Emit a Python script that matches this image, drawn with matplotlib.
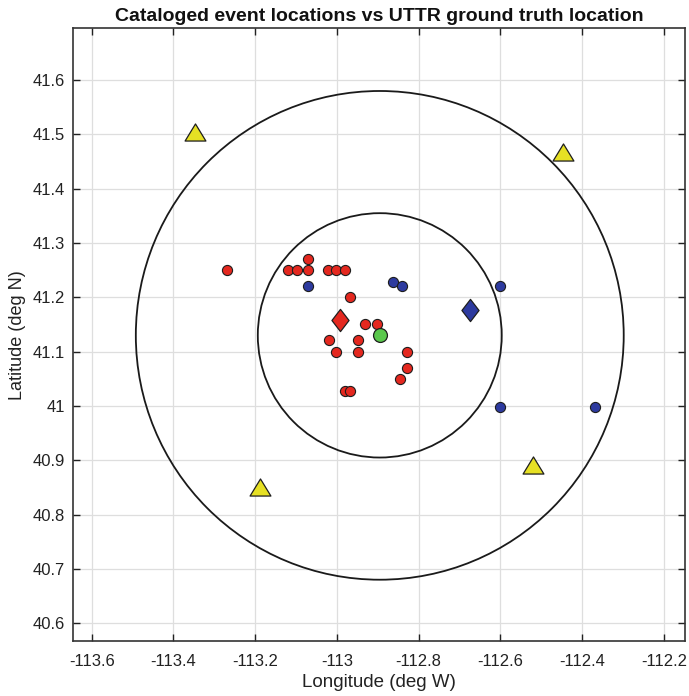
import numpy as np
import matplotlib
matplotlib.use("Agg")
import matplotlib.pyplot as plt
from matplotlib.patches import Ellipse
from matplotlib.path import Path

plt.rcParams['font.family'] = ['Liberation Sans', 'DejaVu Sans']

# Cataloged events (red = one catalog, blue = another)
red_lon = [-113.270, -113.120, -113.098, -113.071, -113.071, -113.021, -113.002, -112.981,
           -112.969, -112.931, -112.901, -113.020, -112.949, -113.002, -112.949, -112.981,
           -112.969, -112.829, -112.829, -112.846]
red_lat = [41.250, 41.250, 41.250, 41.250, 41.270, 41.250, 41.250, 41.250,
           41.200, 41.150, 41.150, 41.121, 41.121, 41.100, 41.100, 41.028,
           41.028, 41.100, 41.069, 41.049]
blue_lon = [-113.071, -112.863, -112.840, -112.600, -112.600, -112.369]
blue_lat = [41.220, 41.229, 41.220, 41.220, 40.998, 40.998]

red_mean_lon, red_mean_lat = -112.992, 41.159
blue_mean_lon, blue_mean_lat = -112.674, 41.176
truth_lon, truth_lat = -112.895, 41.130

sta_lon = [-113.346, -112.447, -113.187, -112.520]
sta_lat = [41.504, 41.467, 40.851, 40.891]

ring_radii_km = [25, 50]

xticks = [-113.6, -113.4, -113.2, -113.0, -112.8, -112.6, -112.4, -112.2]
xticklabels = ['-113.6', '-113.4', '-113.2', '-113', '-112.8', '-112.6', '-112.4', '-112.2']
yticks = [40.6, 40.7, 40.8, 40.9, 41.0, 41.1, 41.2, 41.3, 41.4, 41.5, 41.6]
yticklabels = ['40.6', '40.7', '40.8', '40.9', '41', '41.1', '41.2', '41.3', '41.4', '41.5', '41.6']

fig = plt.figure(figsize=(6.89, 6.96), dpi=100)
ax = fig.add_axes([0.1064, 0.079, 0.9942 - 0.1064, 0.9593 - 0.079])

ax.set_xlim(-113.645, -112.148)
ax.set_ylim(40.5675, 41.695)

ax.grid(True, color='#dedede', linewidth=0.9)
ax.set_axisbelow(True)

km_per_deg = 111.19
for r in ring_radii_km:
    w = 2 * r / (km_per_deg * np.cos(np.radians(truth_lat)))
    h = 2 * r / km_per_deg
    ax.add_patch(Ellipse((truth_lon, truth_lat), w, h, fill=False,
                         edgecolor='#1a1a1a', linewidth=1.3, zorder=2))

edge = '#1e1e1e'
ax.plot(red_lon, red_lat, 'o', ms=7.3, mfc='#e4281f', mec=edge, mew=0.8, zorder=3)
ax.plot(blue_lon, blue_lat, 'o', ms=7.3, mfc='#2d3a9f', mec=edge, mew=0.8, zorder=3)

diamond = Path([(0, 1), (0.77, 0), (0, -1), (-0.77, 0), (0, 1)],
               [Path.MOVETO, Path.LINETO, Path.LINETO, Path.LINETO, Path.CLOSEPOLY])
ax.plot([red_mean_lon], [red_mean_lat], marker=diamond, ms=16, mfc='#e4281f', mec=edge,
        mew=0.9, ls='none', zorder=4)
ax.plot([blue_mean_lon], [blue_mean_lat], marker=diamond, ms=16, mfc='#2d3a9f', mec=edge,
        mew=0.9, ls='none', zorder=4)
ax.plot([truth_lon], [truth_lat], 'o', ms=10, mfc='#5ac84c', mec=edge, mew=0.9, zorder=4)

tri = Path([(0, 0.82), (-1, -0.82), (1, -0.82), (0, 0.82)],
           [Path.MOVETO, Path.LINETO, Path.LINETO, Path.CLOSEPOLY])
ax.plot(sta_lon, sta_lat, marker=tri, ms=15, mfc='#e6e024', mec=edge, mew=0.9,
        ls='none', zorder=4)

ax.set_xticks(xticks)
ax.set_xticklabels(xticklabels)
ax.set_yticks(yticks)
ax.set_yticklabels(yticklabels)
ax.tick_params(direction='in', length=5, width=1.0, top=True, right=True,
               labelsize=12, colors='#222222')
ax.tick_params(axis='x', pad=9)
ax.tick_params(axis='y', pad=6)
for s in ax.spines.values():
    s.set_linewidth(1.2)
    s.set_color('#333333')

ax.set_xlabel('Longitude (deg W)', fontsize=13.5, color='#222222', labelpad=4)
ax.set_ylabel('Latitude (deg N)', fontsize=13, color='#222222', labelpad=5)
ax.set_title('Cataloged event locations vs UTTR ground truth location',
             fontsize=14, fontweight='bold', color='#111111', pad=5)

fig.savefig('out.png', dpi=100)
